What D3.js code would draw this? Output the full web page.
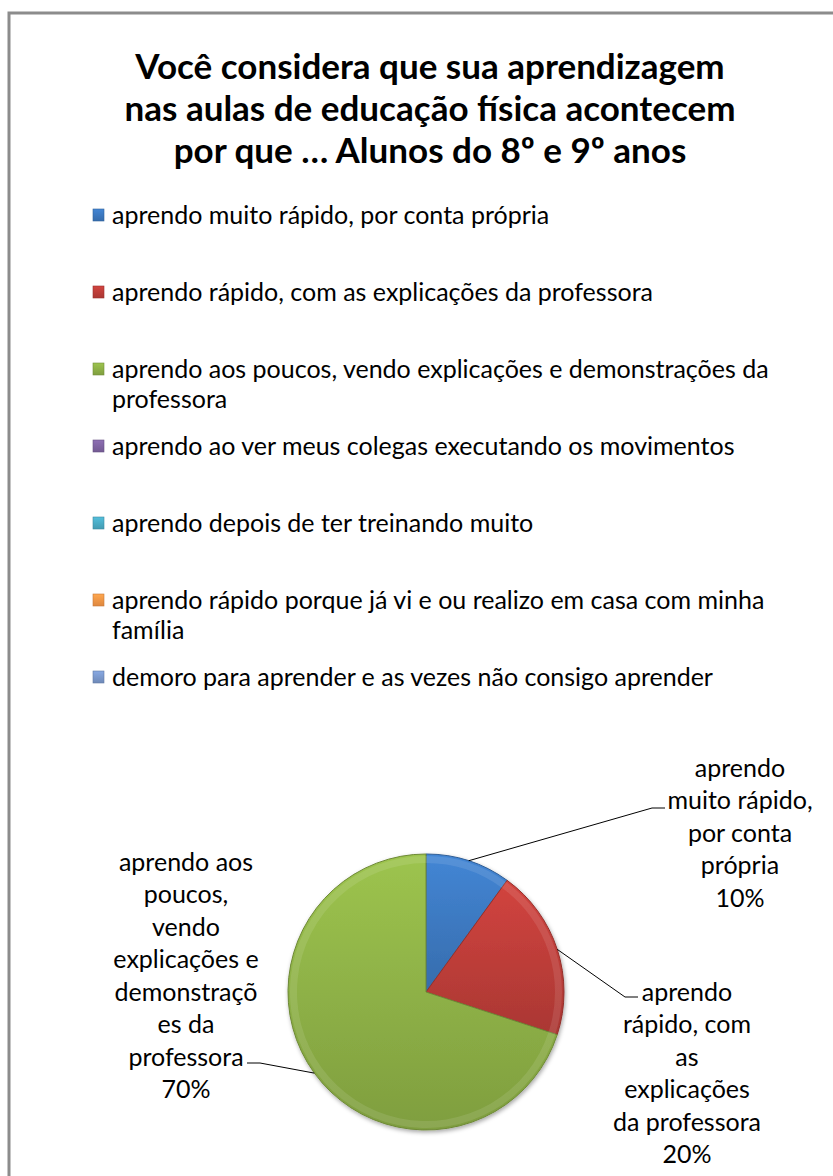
<!DOCTYPE html>
<html>
<head>
<meta charset="utf-8">
<script src="https://cdn.jsdelivr.net/npm/d3@7"></script>
<style>
  body { margin: 0; background: #fff; }
  svg { display: block; }
  text { font-family: Lato, "Open Sans", sans-serif; fill: #000; }
</style>
</head>
<body>
<svg id="chart" width="833" height="1176"></svg>
<script>
// data
var titleLines = ["Você considera que sua aprendizagem",
                  "nas aulas de educação física acontecem",
                  "por que … Alunos do 8º e 9º anos"];

var categories = [
  "aprendo muito rápido, por conta própria",
  "aprendo rápido, com as explicações da professora",
  "aprendo aos poucos, vendo explicações e demonstrações da professora",
  "aprendo ao ver meus colegas executando os movimentos",
  "aprendo depois de ter treinando muito",
  "aprendo rápido porque já vi e ou realizo em casa com minha família",
  "demoro para aprender e as vezes não consigo aprender"
];

// legend text, wrapped as in the picture
var legendLines = [
  ["aprendo muito rápido, por conta própria"],
  ["aprendo rápido, com as explicações da professora"],
  ["aprendo aos poucos, vendo explicações e demonstrações da", "professora"],
  ["aprendo ao ver meus colegas executando os movimentos"],
  ["aprendo depois de ter treinando muito"],
  ["aprendo rápido porque já vi e ou realizo em casa com minha", "família"],
  ["demoro para aprender e as vezes não consigo aprender"]
];

var values = [10, 20, 70, 0, 0, 0, 0];

// data label text (wrapped), percent is added from values
var pieLabelLines = [
  ["aprendo", "muito rápido,", "por conta", "própria"],
  ["aprendo", "rápido, com", "as", "explicações", "da professora"],
  ["aprendo aos", "poucos,", "vendo", "explicações e", "demonstraçõ", "es da", "professora"]
];

var colors = ["#3c78bf", "#bd3d39", "#8db046", "#8064a2", "#4bacc6", "#f79646", "#7a98cc"];

var svg = d3.select("#chart");
var defs = svg.append("defs");

// outer frame
svg.append("rect")
  .attr("x", 9).attr("y", 13)
  .attr("width", 840).attr("height", 1200)
  .attr("fill", "none")
  .attr("stroke", "#8c8c8c")
  .attr("stroke-width", 3);

// title
svg.append("g").selectAll("text")
  .data(titleLines)
  .enter().append("text")
  .attr("x", 430)
  .attr("y", function (d, i) { return 79 + i * 42; })
  .attr("text-anchor", "middle")
  .style("font-size", "35px")
  .style("font-weight", "bold")
  .text(function (d) { return d; });

// gradients for the bevelled look
colors.forEach(function (c, i) {
  var g = defs.append("linearGradient")
    .attr("id", "grad" + i)
    .attr("x1", 0).attr("y1", 0).attr("x2", 0).attr("y2", 1);
  g.append("stop").attr("offset", "0%").attr("stop-color", d3.color(c).brighter(0.3));
  g.append("stop").attr("offset", "100%").attr("stop-color", d3.color(c).darker(0.3));
});

var shadow = defs.append("filter").attr("id", "shadow")
  .attr("x", "-10%").attr("y", "-10%").attr("width", "120%").attr("height", "120%");
shadow.append("feDropShadow")
  .attr("dx", 1).attr("dy", 2).attr("stdDeviation", 2)
  .attr("flood-color", "#000").attr("flood-opacity", 0.35);

// legend
var legendY = [215, 292, 369, 446, 523, 600, 677];
var legend = svg.append("g");
legendLines.forEach(function (lines, i) {
  legend.append("rect")
    .attr("x", 93).attr("y", legendY[i] - 6)
    .attr("width", 11).attr("height", 12)
    .attr("fill", "url(#grad" + i + ")")
    .attr("stroke", d3.color(colors[i]).darker(0.6))
    .attr("stroke-width", 0.6);
  lines.forEach(function (t, j) {
    legend.append("text")
      .attr("x", 112)
      .attr("y", legendY[i] + j * 30)
      .attr("dy", "0.35em")
      .style("font-size", "25px")
      .text(t);
  });
});

// pie
var cx = 426, cy = 992, r = 138;
var pie = d3.pie().sort(null).value(function (d) { return d; });
var arcs = pie(values);
var arc = d3.arc().innerRadius(0).outerRadius(r);
var edge = d3.arc().innerRadius(r).outerRadius(r);
var shown = arcs.filter(function (d) { return d.value > 0; });

var pieG = svg.append("g").attr("transform", "translate(" + cx + "," + cy + ")");

pieG.append("g").attr("filter", "url(#shadow)")
  .selectAll("path")
  .data(shown)
  .enter().append("path")
  .attr("d", arc)
  .attr("fill", function (d) { return "url(#grad" + d.index + ")"; })
  .attr("stroke", function (d) { return d3.color(colors[d.index]).darker(0.7); })
  .attr("stroke-width", 1);

// lighter rim inside each slice
var rim = d3.arc().innerRadius(r - 9).outerRadius(r - 2);
pieG.append("g").selectAll("path")
  .data(shown)
  .enter().append("path")
  .attr("d", rim)
  .attr("fill", "#fff")
  .attr("opacity", 0.1);

// data labels and leader lines
var labelLayout = [
  { x: 740, y: 768, bend: [652, 808], end: [665, 808] },
  { x: 687, y: 992, bend: [625, 997], end: [638, 997] },
  { x: 186, y: 862, bend: [260, 1063], end: [247, 1063] }
];
var pct = d3.format(".0%");
var total = d3.sum(values);

var labels = svg.append("g");
labelLayout.forEach(function (L, i) {
  var p = edge.centroid(arcs[i]);
  var start = [cx + p[0], cy + p[1]];
  labels.append("path")
    .attr("d", d3.line()([start, L.bend, L.end]))
    .attr("fill", "none")
    .attr("stroke", "#000")
    .attr("stroke-width", 1);

  var lines = pieLabelLines[i].concat([pct(values[i] / total)]);
  lines.forEach(function (t, j) {
    labels.append("text")
      .attr("x", L.x)
      .attr("y", L.y + j * 32.5)
      .attr("dy", "0.35em")
      .attr("text-anchor", "middle")
      .style("font-size", "25px")
      .text(t);
  });
});
</script>
</body>
</html>
